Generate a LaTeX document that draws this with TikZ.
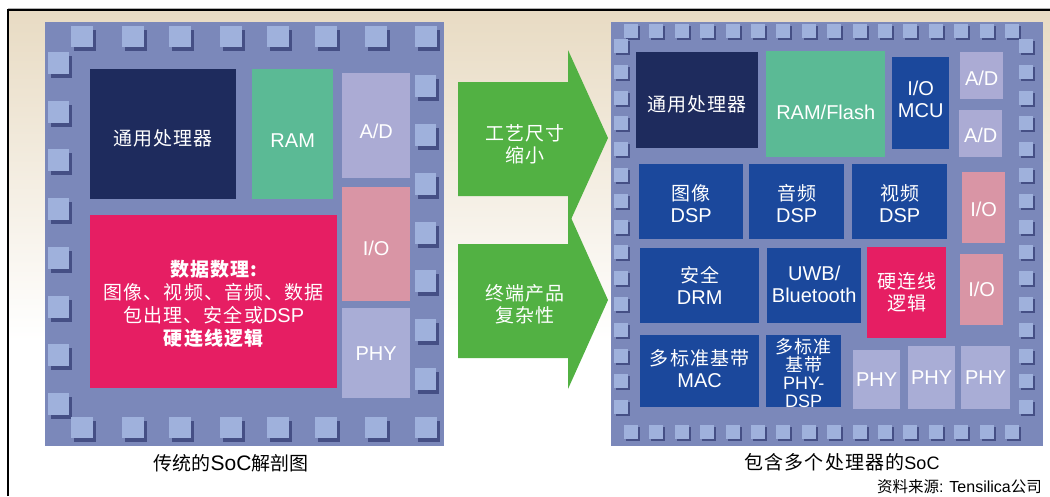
\documentclass[tikz,border=0pt]{standalone}
\usepackage{fontspec}
\setmainfont{Liberation Sans}
\newfontfamily\cjk{Noto Sans CJK SC}
\newfontfamily\cjks[LetterSpace=6]{Noto Sans CJK SC}
\newcommand\zh[1]{{\cjks\fontsize{19}{22}\selectfont #1}}
\definecolor{chip}{HTML}{7B88BA}
\definecolor{pad}{HTML}{9FB1DC}
\definecolor{padsh}{HTML}{454F85}
\definecolor{navy}{HTML}{1E2B5D}
\definecolor{mem}{HTML}{5BBA95}
\definecolor{adc}{HTML}{ABABD4}
\definecolor{phyc}{HTML}{A9ADD6}
\definecolor{ioc}{HTML}{D995A5}
\definecolor{redc}{HTML}{E61E63}
\definecolor{dspc}{HTML}{1B489C}
\definecolor{arr}{HTML}{52B143}
\definecolor{bgtop}{HTML}{E8DBC3}
\tikzset{
  blk/.style={draw=none, inner sep=0pt, anchor=north west},
  blktext/.style={inner sep=0pt, text=white, align=center, font=\fontsize{20}{22}\selectfont},
  captext/.style={inner sep=0pt, text=black, align=center},
  arrtext/.style={inner sep=0pt, text=white, align=center, font=\fontsize{20}{22}\selectfont}
}
% \blk[text offset down]{name}{x}{y}{w}{h}{colour}{text}
\newcommand\blk[8][0]{%
  \node[blk, fill=#7, minimum width=#5pt, minimum height=#6pt] (#2) at (#3,#4) {};
  \node[blktext] (#2-t) at ([yshift=-#1pt]#2.center) {#8};}
\begin{document}
\begin{tikzpicture}[x=1pt,y=-1pt]
\useasboundingbox (0,0) rectangle (1050,496);
\fill[white] (0,0) rectangle (1050,496);
% background
\shade[top color=bgtop, bottom color=white] (8,10) rectangle (1050,340);
\draw[black, line width=1.2pt] (8,496) -- (8,10) -- (1050,10);
\draw[gray!60, line width=0.6pt] (8,8.6) -- (1050,8.6);

% ---------------- left chip
\fill[chip] (45,22) rectangle (444,446);
\foreach \x in {71,122,169,220,267,315,365,415}{
  \fill[padsh] (\x+3,26+4) rectangle +(22,21);
  \fill[padsh] (\x+3,417+4) rectangle +(22,21);
}
\foreach \y in {52,101,149,198,247,296,344,393}{
  \fill[padsh] (48+3,\y+4) rectangle +(21,22);
}
\foreach \y in {75,124,173,222,270,319,368}{
  \fill[padsh] (415+3,\y+4) rectangle +(21,22);
}
\foreach \x in {71,122,169,220,267,315,365,415}{
  \fill[pad] (\x,26) rectangle +(22,21);
  \fill[pad] (\x,417) rectangle +(22,21);
}
\foreach \y in {52,101,149,198,247,296,344,393}{
  \fill[pad] (48,\y) rectangle +(21,22);
}
\foreach \y in {75,124,173,222,270,319,368}{
  \fill[pad] (415,\y) rectangle +(21,22);
}
\blk[4]{cpuL}{90}{69}{146}{130}{navy}{\zh{通用处理器}}
\blk[6]{ramL}{252}{69}{81}{130}{mem}{RAM}
\blk[6]{adL}{342}{73}{68}{105}{adc}{A/D}
\blk[4]{ioL}{342}{187}{68}{114}{ioc}{I/O}
\blk{phyL}{342}{308}{68}{90}{phyc}{PHY}
\node[blk, fill=redc, minimum width=247pt, minimum height=173pt] (dataL) at (90,215) {};
\node[blktext, font=\fontsize{20}{23}\selectfont] (dataL-t) at ([yshift=-2pt]dataL.center)
  {{\cjks\fontsize{19}{23}\selectfont\bfseries 数据数理:}\\
   \zh{图像、视频、音频、数据}\\
   \zh{包出理、安全或}DSP\\
   {\cjks\fontsize{19}{23}\selectfont\bfseries 硬连线逻辑}};

\node[captext, font=\fontsize{19}{22}\selectfont] (capL) at (231,463)
  {{\cjk 传统的}{\fontsize{21}{22}\selectfont SoC}{\cjk 解剖图}};

% ---------------- arrows
\fill[arr] (458,82) -- (568,82) -- (568,50) -- (608,138) -- (568,226) -- (568,196) -- (458,196) -- cycle;
\fill[arr] (458,244) -- (568,244) -- (568,211) -- (608,300) -- (568,389) -- (568,358) -- (458,358) -- cycle;
\node[arrtext] (arr1) at (525,144) {\zh{工艺尺寸}\\\zh{缩小}};
\node[arrtext] (arr2) at (525,304) {\zh{终端产品}\\\zh{复杂性}};

% ---------------- right chip
\fill[chip] (611,22) rectangle (1043,446);
\foreach \k in {0,...,15}{
  \pgfmathsetmacro\xx{624+25.4*\k}
  \fill[padsh] (\xx+2,24+2) rectangle +(14,14);
  \fill[padsh] (\xx+2,425+2) rectangle +(14,14);
  \fill[pad] (\xx,24) rectangle +(14,14);
  \fill[pad] (\xx,425) rectangle +(14,14);
}
\foreach \k in {0,...,14}{
  \pgfmathsetmacro\yy{39+25.8*\k}
  \fill[padsh] (614+2,\yy+2) rectangle +(14,14);
  \fill[padsh] (1019+2,\yy+2) rectangle +(14,14);
  \fill[pad] (614,\yy) rectangle +(14,14);
  \fill[pad] (1019,\yy) rectangle +(14,14);
}
\blk[4]{cpuR}{636}{52}{122}{96}{navy}{\zh{通用处理器}}
\blk[8]{ramR}{766}{51}{119}{106}{mem}{RAM/Flash}
\blk[-4]{mcuR}{892}{57}{57}{92}{dspc}{I/O\\MCU}
\blk[3]{adaR}{960}{52}{43}{47}{adc}{A/D}
\blk[2]{adbR}{959}{110}{43}{47}{adc}{A/D}
\blk[2]{imgR}{639}{164}{104}{75}{dspc}{\zh{图像}\\DSP}
\blk[2]{audR}{749}{164}{95}{75}{dspc}{\zh{音频}\\DSP}
\blk[2]{vidR}{852}{164}{95}{75}{dspc}{\zh{视频}\\DSP}
\blk[2]{ioaR}{962}{172}{43}{71}{ioc}{I/O}
\blk{drmR}{640}{248}{119}{75}{dspc}{\zh{安全}\\DRM}
\blk[-1]{uwbR}{767}{248}{94}{75}{dspc}{UWB/\\Bluetooth}
\blk{hwR}{867}{247}{79}{91}{redc}{\zh{硬连线}\\\zh{逻辑}}
\blk{iobR}{960}{254}{43}{71}{ioc}{I/O}
\blk[-3]{macR}{640}{335}{119}{72}{dspc}{\zh{多标准基带}\\MAC}
\node[blk, fill=dspc, minimum width=75pt, minimum height=72pt] (pdspR) at (766,335) {};
\node[blktext, font=\fontsize{18}{18}\selectfont] (pdspR-t) at ([yshift=-2pt]pdspR.center)
  {{\cjks\fontsize{18}{18}\selectfont 多标准}\\{\cjks\fontsize{18}{18}\selectfont 基带}\\PHY-\\DSP};
\blk{phyaR}{853}{350}{47}{59}{phyc}{PHY}
\blk{phybR}{908}{346}{47}{63}{phyc}{PHY}
\blk{phycR}{961}{346}{49}{63}{phyc}{PHY}

\node[captext, font=\fontsize{19}{22}\selectfont] (capR) at (842,462)
  {{\cjks 包含多个处理器的}{\fontsize{18}{22}\selectfont SoC}};
\node[captext, anchor=east, font=\fontsize{16}{18}\selectfont] (src) at (1042,487)
  {{\cjk\fontsize{15.5}{18}\selectfont 资料来源}: Tensilica{\cjk\fontsize{15.5}{18}\selectfont 公司}};
\end{tikzpicture}
\end{document}
